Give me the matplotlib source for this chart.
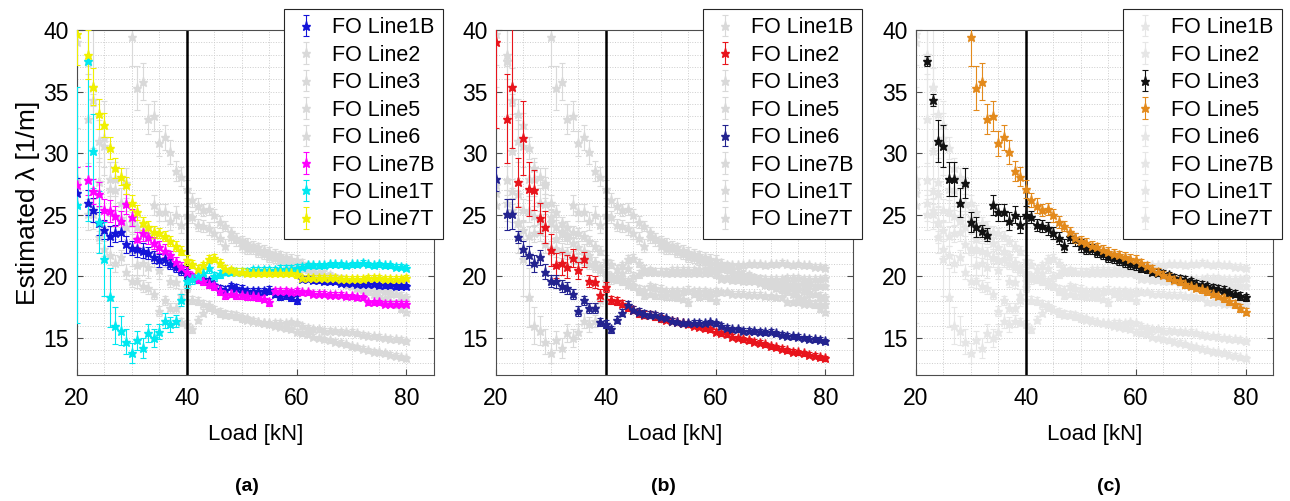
import numpy as np
import matplotlib.pyplot as plt
from matplotlib.ticker import MultipleLocator

plt.rcParams['font.family'] = ['Liberation Sans', 'DejaVu Sans']

nan = np.nan

# load steps [kN] (no point at 21)
load = [20] + list(range(22, 81))

# --- estimated lambda [1/m] per fibre line ---
line1b = [26.8, 26.0, 25.4, 24.3, 23.8, 23.3, 23.5, 23.6, 22.6, 22.3,
          22.2, 22.1, 21.9, 21.6, 21.3, 21.4, 21.0, 20.8, 20.5, 20.2,
          19.9, 19.8, 19.8, 19.6, 19.3, 19.0, 18.9, 19.2, 19.1, 19.0,
          18.8, 18.8, 18.8, 18.8, 18.9, 18.6, 18.4, 18.5, 18.3, 18.1,
          19.8, 19.8, 19.7, 19.7, 19.6, 19.6, 19.6, 19.5, 19.5, 19.5,
          19.4, 19.4, 19.4, 19.4, 19.3, 19.3, 19.3, 19.2, 19.2, 19.2]
line1b_err = [1.2, 1.0, 1.0, 0.9, 0.8, 0.8, 0.7, 0.7, 0.7, 0.6,
              0.6, 0.6, 0.5, 0.5, 0.5, 0.5, 0.4, 0.4, 0.4, 0.4,
              0.3, 0.3, 0.3, 0.3, 0.3, 0.3, 0.3, 0.3, 0.3, 0.3,
              0.3, 0.3, 0.3, 0.3, 0.3, 0.3, 0.3, 0.3, 0.3, 0.3,
              0.2, 0.2, 0.2, 0.2, 0.2, 0.2, 0.2, 0.2, 0.2, 0.2,
              0.2, 0.2, 0.2, 0.2, 0.2, 0.2, 0.2, 0.2, 0.2, 0.2]

line2 = [39.05, 32.8, 35.4, 27.65, 31.25, 27.1, 27.0, 24.75, 24.0, 22.15,
         20.9, 21.05, 20.8, 21.5, 20.5, 21.4, 19.65, 19.55, 18.5, 19.15,
         18.1, 18.0, 17.8, 17.5, 17.3, 17.0, 16.9, 16.9, 16.8, 16.6,
         16.5, 16.4, 16.3, 16.2, 16.1, 16.0, 15.9, 15.8, 15.7, 15.5,
         15.4, 15.3, 15.1, 15.0, 14.9, 14.8, 14.7, 14.6, 14.5, 14.35,
         14.25, 14.15, 14.0, 13.9, 13.85, 13.75, 13.65, 13.55, 13.45, 13.35]
line2_err = [7.0, 3.6, 5.0, 2.0, 3.0, 2.2, 1.6, 1.2, 1.3, 1.3,
             1.0, 0.9, 0.9, 0.7, 0.7, 0.6, 0.5, 0.5, 0.5, 0.4,
             0.3, 0.3, 0.3, 0.3, 0.3, 0.3, 0.3, 0.3, 0.3, 0.3,
             0.2, 0.2, 0.2, 0.2, 0.2, 0.2, 0.2, 0.2, 0.2, 0.2,
             0.2, 0.2, 0.2, 0.2, 0.2, 0.2, 0.2, 0.2, 0.2, 0.2,
             0.2, 0.2, 0.2, 0.2, 0.2, 0.2, 0.2, 0.2, 0.2, 0.2]

line3 = [nan, 37.5, 34.3, 31.0, 30.6, 27.9, 27.9, 26.0, 27.6, 24.4,
         24.0, 23.7, 23.4, 25.8, 25.2, 25.2, 24.5, 25.0, 24.2, 25.0,
         24.8, 24.2, 24.1, 23.9, 23.5, 23.1, 22.5, 23.2, 23.0, 22.5,
         22.2, 22.2, 22.0, 21.8, 21.6, 21.5, 21.3, 21.2, 21.0, 20.9,
         20.7, 20.6, 20.4, 20.3, 20.2, 20.1, 19.9, 19.8, 19.7, 19.6,
         19.4, 19.3, 19.2, 19.1, 19.0, 18.9, 18.7, 18.6, 18.4, 18.3]
line3_err = [nan, 0.4, 0.5, 1.7, 1.7, 1.4, 1.4, 1.2, 1.2, 0.8,
             0.8, 0.5, 0.5, 0.8, 0.7, 0.7, 0.7, 0.7, 0.7, 0.7,
             0.5, 0.5, 0.5, 0.5, 0.5, 0.5, 0.5, 0.5, 0.5, 0.5,
             0.4, 0.4, 0.4, 0.4, 0.4, 0.4, 0.4, 0.4, 0.4, 0.4,
             0.3, 0.3, 0.3, 0.3, 0.3, 0.3, 0.3, 0.3, 0.3, 0.3,
             0.3, 0.3, 0.3, 0.3, 0.3, 0.3, 0.3, 0.3, 0.3, 0.3]

line5 = [nan, nan, nan, nan, nan, nan, nan, nan, nan, 39.45,
         35.3, 35.8, 32.8, 33.0, 30.8, 31.3, 30.1, 28.55, 28.1, 27.1,
         26.2, 25.75, 25.4, 25.5, 24.95, 24.4, 24.1, 23.6, 23.1, 22.9,
         22.75, 22.5, 22.35, 22.15, 22.0, 21.85, 21.7, 21.55, 21.45, 21.3,
         21.1, 20.85, 20.6, 20.4, 20.15, 19.95, 19.75, 19.6, 19.4, 19.25,
         19.1, 18.95, 18.8, 18.6, 18.45, 18.25, 18.0, 17.75, 17.45, 17.15]
line5_err = [nan, nan, nan, nan, nan, nan, nan, nan, nan, 2.4,
             1.8, 1.5, 1.2, 1.2, 1.0, 1.0, 1.0, 0.8, 0.8, 0.7,
             0.6, 0.6, 0.5, 0.5, 0.5, 0.5, 0.4, 0.4, 0.4, 0.4,
             0.4, 0.4, 0.4, 0.4, 0.4, 0.4, 0.4, 0.4, 0.4, 0.4,
             0.3, 0.3, 0.3, 0.3, 0.3, 0.3, 0.3, 0.3, 0.3, 0.3,
             0.3, 0.3, 0.3, 0.3, 0.3, 0.3, 0.3, 0.3, 0.3, 0.3]

line6 = [27.9, 25.05, 25.05, 23.2, 22.25, 21.7, 21.05, 21.55, 20.4, 19.65,
         19.6, 19.25, 19.05, 18.6, 17.2, 18.05, 17.45, 17.45, 16.3, 16.15,
         15.7, 16.5, 17.05, 17.7, 17.3, 17.1, 16.95, 16.9, 16.85, 16.7,
         16.6, 16.4, 16.3, 16.2, 16.2, 16.25, 16.25, 16.2, 16.3, 16.2,
         16.0, 15.85, 15.7, 15.7, 15.6, 15.6, 15.55, 15.5, 15.45, 15.5,
         15.4, 15.25, 15.2, 15.15, 15.1, 15.0, 14.95, 14.9, 14.85, 14.75]
line6_err = [1.0, 1.25, 1.2, 0.5, 0.6, 0.8, 0.7, 0.6, 0.6, 0.5,
             0.5, 0.5, 0.5, 0.4, 0.4, 0.4, 0.4, 0.4, 0.3, 0.3,
             0.3, 0.3, 0.3, 0.3, 0.3, 0.3, 0.3, 0.3, 0.3, 0.3,
             0.2, 0.2, 0.2, 0.2, 0.2, 0.2, 0.2, 0.2, 0.2, 0.2,
             0.2, 0.2, 0.2, 0.2, 0.2, 0.2, 0.2, 0.2, 0.2, 0.2,
             0.2, 0.2, 0.2, 0.2, 0.2, 0.2, 0.2, 0.2, 0.2, 0.2]

line7b = [27.4, 27.8, 26.9, 26.7, 25.4, 25.3, 24.9, 24.5, 25.9, 24.8,
          23.0, 23.5, 23.2, 22.7, 22.4, 22.1, 21.7, 21.2, 20.8, 20.4,
          20.0, 19.8, 19.6, 19.4, 19.2, 18.8, 18.5, 18.6, 18.5, 18.5,
          18.4, 18.4, 18.3, 18.2, 17.9, 18.8, 18.8, 18.8, 18.7, 18.8,
          18.7, 18.7, 18.6, 18.6, 18.6, 18.5, 18.5, 18.5, 18.4, 18.4,
          18.3, 18.3, 17.9, 17.9, 17.9, 17.8, 17.8, 17.8, 17.8, 17.8]
line7b_err = [1.5, 1.2, 1.0, 1.0, 0.9, 0.9, 0.8, 0.8, 0.8, 0.7,
              0.6, 0.6, 0.6, 0.5, 0.5, 0.5, 0.4, 0.4, 0.4, 0.4,
              0.3, 0.3, 0.3, 0.3, 0.3, 0.3, 0.3, 0.3, 0.3, 0.3,
              0.3, 0.3, 0.3, 0.3, 0.3, 0.3, 0.3, 0.3, 0.3, 0.3,
              0.2, 0.2, 0.2, 0.2, 0.2, 0.2, 0.2, 0.2, 0.2, 0.2,
              0.2, 0.2, 0.2, 0.2, 0.2, 0.2, 0.2, 0.2, 0.2, 0.2]

line1t = [25.8, 37.5, 30.2, 24.4, 21.4, 18.3, 16.0, 15.6, 14.7, 13.8,
          14.8, 14.2, 15.4, 15.0, 15.5, 16.4, 16.1, 16.4, 18.1, 19.6,
          19.8, 20.0, 20.3, 20.7, 20.0, 20.2, 20.4, 20.4, 20.4, 20.4,
          20.4, 20.5, 20.5, 20.5, 20.5, 20.5, 20.6, 20.6, 20.6, 20.7,
          20.8, 20.9, 20.9, 20.9, 20.9, 21.0, 21.0, 21.0, 20.9, 21.0,
          21.0, 21.1, 21.0, 20.9, 21.0, 20.9, 20.9, 20.8, 20.8, 20.7]
line1t_err = [9.6, 13.0, 3.0, 2.5, 3.0, 2.4, 1.5, 1.2, 1.0, 0.8,
              0.8, 0.8, 0.7, 0.7, 0.6, 0.6, 0.6, 0.5, 0.5, 0.5,
              0.4, 0.4, 0.4, 0.4, 0.4, 0.3, 0.3, 0.3, 0.3, 0.3,
              0.3, 0.3, 0.3, 0.3, 0.3, 0.3, 0.3, 0.3, 0.3, 0.3,
              0.2, 0.2, 0.2, 0.2, 0.2, 0.2, 0.2, 0.2, 0.2, 0.2,
              0.2, 0.2, 0.2, 0.2, 0.2, 0.2, 0.2, 0.2, 0.2, 0.2]

line7t = [39.7, 38.0, 35.4, 33.2, 32.3, 30.4, 28.8, 28.1, 27.4, 26.0,
          25.2, 24.3, 24.0, 23.6, 23.5, 23.3, 22.9, 22.5, 22.1, 21.3,
          21.0, 20.6, 20.9, 21.4, 21.5, 21.1, 20.6, 20.5, 20.4, 20.4,
          20.3, 20.3, 20.3, 20.3, 20.3, 20.3, 20.3, 20.3, 20.3, 20.2,
          19.9, 19.9, 19.9, 19.9, 19.9, 19.9, 19.9, 19.8, 19.8, 19.8,
          19.8, 19.8, 19.9, 19.9, 19.9, 19.8, 19.8, 19.8, 19.8, 19.9]
line7t_err = [2.5, 2.0, 1.5, 1.2, 1.0, 0.9, 0.8, 0.7, 0.7, 0.6,
              0.6, 0.5, 0.5, 0.5, 0.4, 0.4, 0.4, 0.4, 0.4, 0.4,
              0.3, 0.3, 0.3, 0.3, 0.3, 0.3, 0.3, 0.3, 0.3, 0.3,
              0.3, 0.3, 0.3, 0.3, 0.3, 0.3, 0.3, 0.3, 0.3, 0.3,
              0.2, 0.2, 0.2, 0.2, 0.2, 0.2, 0.2, 0.2, 0.2, 0.2,
              0.2, 0.2, 0.2, 0.2, 0.2, 0.2, 0.2, 0.2, 0.2, 0.2]

names = ['FO Line1B', 'FO Line2', 'FO Line3', 'FO Line5',
         'FO Line6', 'FO Line7B', 'FO Line1T', 'FO Line7T']
values = [line1b, line2, line3, line5, line6, line7b, line1t, line7t]
errors = [line1b_err, line2_err, line3_err, line5_err,
          line6_err, line7b_err, line1t_err, line7t_err]

# highlighted lines per panel and their colours
highlight_a = {'FO Line1B': '#1414d8', 'FO Line7B': '#ff00ff',
               'FO Line1T': '#00e8f0', 'FO Line7T': '#f0f000'}
highlight_b = {'FO Line2': '#e8141c', 'FO Line6': '#23238f'}
highlight_c = {'FO Line3': '#111111', 'FO Line5': '#e38a1c'}


def panel(ax, highlight, gray):
    for name, y, e in zip(names, values, errors):
        if name in highlight:
            col, z = highlight[name], 3
        else:
            col, z = gray, 2
        ax.errorbar(load, y, yerr=e, fmt='*', color=col, ecolor=col,
                    ms=6.5, lw=0.8, capsize=2.5, capthick=0.8,
                    label=name, zorder=z)
    ax.axvline(40, color='k', lw=1.8, zorder=2.5)
    ax.set_xlim(20, 85)
    ax.set_ylim(12, 40)
    ax.set_xticks([20, 40, 60, 80])
    ax.set_yticks([15, 20, 25, 30, 35, 40])
    ax.xaxis.set_minor_locator(MultipleLocator(5))
    ax.yaxis.set_minor_locator(MultipleLocator(1))
    ax.grid(which='both', ls=':', color='0.8', lw=0.7)
    ax.tick_params(which='major', direction='in', length=4, labelsize=16.5,
                   top=True, right=True, color='0.3')
    ax.tick_params(axis='x', which='major', pad=9)
    ax.tick_params(axis='y', which='major', pad=6)
    ax.tick_params(which='minor', length=0)
    for s in ax.spines.values():
        s.set_color('0.3')
        s.set_linewidth(0.8)
    ax.set_xlabel('Load [kN]', fontsize=16, labelpad=10)
    leg = ax.legend(loc='upper right', bbox_to_anchor=(1.025, 1.062),
                    borderaxespad=0, fontsize=15.5, handlelength=1.2,
                    handletextpad=0.6, labelspacing=0.3, fancybox=False,
                    framealpha=1, edgecolor='0.15')
    leg.get_frame().set_linewidth(0.8)
    leg.set_zorder(10)


fig = plt.figure(figsize=(12.9, 5.01), dpi=100)
lefts = [0.0597, 0.3845, 0.7101]
axs = [fig.add_axes([l, 0.2515, 0.2767, 0.6886]) for l in lefts]

panel(axs[0], highlight_a, '0.85')
panel(axs[1], highlight_b, '0.85')
panel(axs[2], highlight_c, '0.9')
axs[0].set_ylabel('Estimated λ [1/m]', fontsize=19, labelpad=2)

for xpos, lab in zip([0.1915, 0.514, 0.860], ['(a)', '(b)', '(c)']):
    fig.text(xpos, 0.02, lab, fontsize=14, fontweight='bold', ha='center')

fig.savefig('out.png', dpi=100)
